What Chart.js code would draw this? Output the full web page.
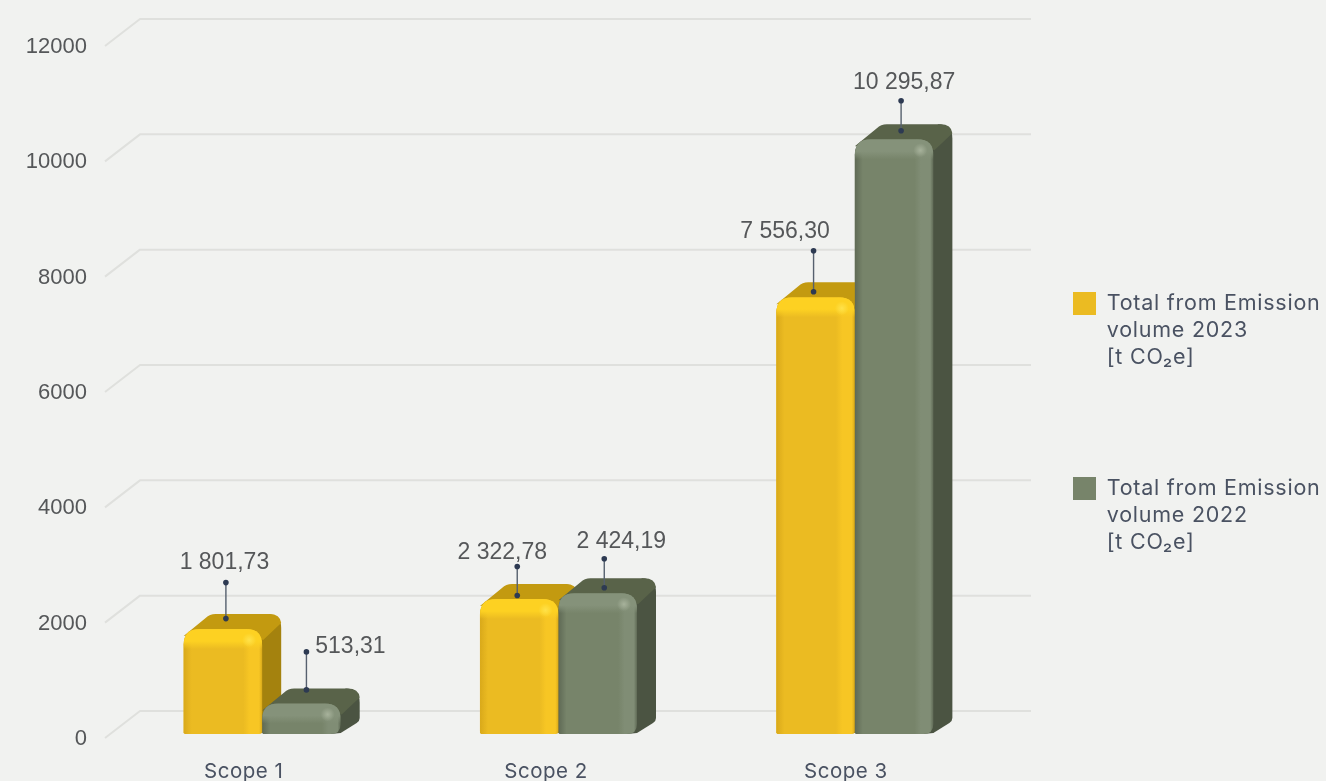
<!DOCTYPE html>
<html>
<head>
<meta charset="utf-8">
<style>
html,body{margin:0;padding:0;background:#f1f2f0;}
canvas{display:block;}
</style>
<script src="https://cdn.jsdelivr.net/npm/chart.js@4"></script>
</head>
<body>
<canvas id="c" width="1326" height="781"></canvas>
<script>
const categories = ['Scope 1', 'Scope 2', 'Scope 3'];
const emissions2023 = [1801.73, 2322.78, 7556.30];
const emissions2022 = [513.31, 2424.19, 10295.87];
const yTicks = [0, 2000, 4000, 6000, 8000, 10000, 12000];
const legend2023 = ['Total from Emission', 'volume 2023', '[t CO₂e]'];
const legend2022 = ['Total from Emission', 'volume 2022', '[t CO₂e]'];

const BG = '#f1f2f0';
const GRID = '#dfe0dd';
const DX = 19, DY = -15;

const palettes = [
  {base:'#ebbb22', edge:'#d9a91a', bright:'#f7c624', bevel:'#fdd122', spot:'#ffe24a', top:'#c39a10', side:'#a4820e', rb:3},
  {base:'#77846a', edge:'#5f6a55', bright:'#808d75', bevel:'#85927a', spot:'#a7b29b', top:'#596349', side:'#4b5442', rb:10}
];

// Label / leader placement per dataset and category (dx of the leader from bar centre,
// rise of the leader foot over the bar top, leader length, label centre relative to leader top)
const callouts = [
  [{dx:3, foot:10.5, len:36, lx:-1.5, ly:-19.5},{dx:-2, foot:3.5, len:29, lx:-15, ly:-13.5},{dx:-2, foot:5.5, len:41, lx:-28.5, ly:-19.5}],
  [{dx:5, foot:13.5, len:38, lx:44, ly:-5.5},{dx:6.5, foot:5.5, len:29, lx:17, ly:-17.5},{dx:7, foot:8.5, len:30, lx:3, ly:-18.5}]
];

function fmt(v){
  const [i,d] = v.toFixed(2).split('.');
  return i.replace(/\B(?=(\d{3})+$)/g,' ') + ',' + d;
}

const xLabelNudge = [-18.5, -12.5, -9];

function spaced(obj, method, amount){
  const original = obj[method];
  obj[method] = function(...args){
    const ctx = this.ctx;
    const prev = ctx.letterSpacing;
    ctx.letterSpacing = amount;
    const out = original.apply(this, args);
    ctx.letterSpacing = prev;
    return out;
  };
}

const scene = {
  id:'scene',
  afterLayout(chart){
    const l = chart.legend;
    l.left = 969; l.right = 1326; l.top = 188; l.bottom = 781;
    if(!l._spaced){ spaced(l,'_draw','0.75px'); l._spaced = true; }
    const xs = chart.scales.x;
    if(!xs._spaced){ spaced(xs,'drawLabels','0.5px'); xs._spaced = true; }
  },
  beforeDraw(chart){
    chart.scales.x.getLabelItems().forEach((it,i)=>{
      if(!it._n){ it.options.translation[0] += xLabelNudge[i]; it._n = true; }
    });
    chart.scales.y.getLabelItems().forEach(it=>{
      if(!it._n){ it.options.translation[1] += 6; it._n = true; }
    });
  },
  beforeDatasetsDraw(chart){
    const {ctx, scales:{y}} = chart;
    ctx.save();
    ctx.strokeStyle = GRID; ctx.lineWidth = 2; ctx.lineJoin='round';
    y.ticks.forEach(t=>{
      const p = y.getPixelForValue(t.value);
      ctx.beginPath();
      ctx.moveTo(105, p+5);
      ctx.lineTo(140, p-22);
      ctx.lineTo(1031, p-22);
      ctx.stroke();
    });
    ctx.restore();
  },
  afterDatasetsDraw(chart){
    const {ctx} = chart;
    [0,1].forEach(ds=>{
      chart.getDatasetMeta(ds).data.forEach(el=>{
        drawBar(ctx, el, palettes[ds]);
      });
    });
    [0,1].forEach(ds=>{
      const values = chart.data.datasets[ds].data;
      chart.getDatasetMeta(ds).data.forEach((el,i)=>{
        drawCallout(ctx, el, callouts[ds][i], fmt(values[i]));
      });
    });
  }
};

function drawBar(ctx, el, pal){
  const x0 = el.x - el.width/2, x1 = el.x + el.width/2;
  const top = el.y, base = el.base + 1;
  ctx.save();
  ctx.filter = 'blur(0.6px)';
  // side + back silhouette
  ctx.beginPath();
  ctx.moveTo(x1-12, top);
  ctx.lineTo(x1+DX-14, top+DY);
  ctx.quadraticCurveTo(x1+DX, top+DY, x1+DX, top+DY+14);
  ctx.lineTo(x1+DX, base+DY-1);
  ctx.quadraticCurveTo(x1+DX, base+DY+2, x1+DX-3, base+DY+4);
  ctx.lineTo(x1+DX-19, base-1);
  ctx.lineTo(x1-10, base);
  ctx.closePath();
  ctx.fillStyle = pal.side;
  ctx.fill();
  // top face
  ctx.beginPath();
  ctx.moveTo(x0, top+7);
  ctx.lineTo(x0+22, top-11);
  ctx.quadraticCurveTo(x0+26, top+DY, x0+32, top+DY);
  ctx.lineTo(x1+DX-12, top+DY);
  ctx.quadraticCurveTo(x1+DX-1, top+DY, x1+DX, top+DY+9);
  ctx.lineTo(x1+1, top+11);
  ctx.lineTo(x1-10, top+6);
  ctx.lineTo(x0+8, top+6);
  ctx.closePath();
  ctx.fillStyle = pal.top;
  ctx.fill();
  // front face
  const r = 16;
  const front = new Path2D();
  front.moveTo(x0, base-1);
  front.lineTo(x0, top+r);
  front.quadraticCurveTo(x0, top, x0+r, top);
  front.lineTo(x1-r, top);
  front.quadraticCurveTo(x1, top, x1, top+r);
  front.lineTo(x1, base-pal.rb);
  front.quadraticCurveTo(x1, base, x1-pal.rb, base);
  front.lineTo(x0+1, base);
  front.closePath();
  const w = x1-x0;
  const g = ctx.createLinearGradient(x0,0,x1,0);
  g.addColorStop(0, pal.edge);
  g.addColorStop(8/w, pal.base);
  g.addColorStop(0.76, pal.base);
  g.addColorStop(0.84, pal.bright);
  g.addColorStop(0.96, pal.bright);
  g.addColorStop(1, pal.edge);
  ctx.fillStyle = g;
  ctx.fill(front);
  ctx.filter = 'none';
  // bevel along the top edge
  ctx.save();
  ctx.clip(front);
  const b = ctx.createLinearGradient(0,top,0,top+20);
  b.addColorStop(0, pal.bevel);
  b.addColorStop(0.6, pal.bevel);
  b.addColorStop(1, pal.bevel+'00');
  ctx.fillStyle = b;
  ctx.fillRect(x0, top, w, 20);
  const sx = x1-13, sy = top+11;
  const s = ctx.createRadialGradient(sx,sy,0,sx,sy,7);
  s.addColorStop(0, pal.spot);
  s.addColorStop(1, pal.spot+'00');
  ctx.fillStyle = s;
  ctx.fillRect(sx-8, sy-8, 16, 16);
  ctx.restore();
  ctx.restore();
}

function drawCallout(ctx, el, c, text){
  const x = el.x + c.dx, foot = el.y - c.foot, tip = foot - c.len;
  ctx.save();
  ctx.strokeStyle = '#56606e';
  ctx.lineWidth = 1.4;
  ctx.beginPath(); ctx.moveTo(x,foot); ctx.lineTo(x,tip); ctx.stroke();
  ctx.fillStyle = '#2d3a52';
  [foot,tip].forEach(py=>{ ctx.beginPath(); ctx.arc(x,py,2.8,0,Math.PI*2); ctx.fill(); });
  ctx.fillStyle = '#555759';
  ctx.font = '23px "Liberation Sans"';
  ctx.textAlign = 'center'; ctx.textBaseline = 'middle';
  ctx.fillText(text, x+c.lx, tip+c.ly);
  ctx.restore();
}

const nativeRadius = {topLeft:15, topRight:15, bottomLeft:0, bottomRight:0};

new Chart(document.getElementById('c'), {
  type:'bar',
  data:{
    labels:categories,
    datasets:[
      {label:legend2023.join(' '), data:emissions2023, backgroundColor:palettes[0].base, borderWidth:0, borderRadius:nativeRadius, borderSkipped:false, categoryPercentage:0.53, barPercentage:1},
      {label:legend2022.join(' '), data:emissions2022, backgroundColor:palettes[1].base, borderWidth:0, borderRadius:nativeRadius, borderSkipped:false, categoryPercentage:0.53, barPercentage:1}
    ]
  },
  options:{
    responsive:false,
    animation:false,
    layout:{padding:{left:0,right:323,top:41,bottom:0}},
    scales:{
      x:{
        grid:{display:false,drawTicks:false},
        border:{display:false},
        ticks:{padding:27,color:'#4a5262',font:{family:'Inter',size:20.5},maxRotation:0},
        afterFit(s){ s.height = 48; }
      },
      y:{
        min:0,max:12000,
        grid:{display:false,drawTicks:false},
        border:{display:false},
        afterBuildTicks(s){ s.ticks = yTicks.map(v=>({value:v})); },
        ticks:{padding:27,color:'#555759',font:{family:'Liberation Sans',size:22},callback:v=>String(v)},
        afterFit(s){ s.width = 114; }
      }
    },
    plugins:{
      title:{display:false},
      tooltip:{enabled:false},
      legend:{
        position:'chartArea',
        align:'start',
        labels:{
          boxWidth:23,boxHeight:23,padding:104,
          color:'#4a5262',
          font:{family:'Inter',size:21.5,lineHeight:27/21.5},
          generateLabels(){
            return [legend2023,legend2022].map((t,i)=>({text:t,fillStyle:palettes[i].base,strokeStyle:palettes[i].base,lineWidth:0,hidden:false,datasetIndex:i,fontColor:'#4a5262'}));
          }
        }
      }
    }
  },
  plugins:[scene]
});
</script>
</body>
</html>
